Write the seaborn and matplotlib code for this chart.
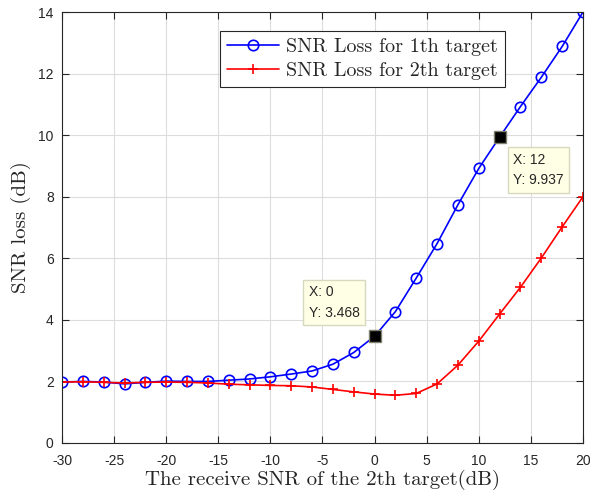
import numpy as np
import pandas as pd
import seaborn as sns
import matplotlib
matplotlib.use("Agg")
import matplotlib.pyplot as plt

snr = [-30, -28, -26, -24, -22, -20, -18, -16, -14, -12, -10, -8, -6, -4, -2,
       0, 2, 4, 6, 8, 10, 12, 14, 16, 18, 20]
loss1 = [1.98, 2.0, 1.98, 1.92, 1.97, 2.01, 2.0, 2.0, 2.04, 2.08, 2.15, 2.24, 2.34,
         2.56, 2.94, 3.468, 4.27, 5.36, 6.48, 7.74, 8.92, 9.937, 10.93, 11.88, 12.88, 14.0]
loss2 = [1.98, 1.99, 1.97, 1.95, 1.97, 1.98, 1.97, 1.95, 1.91, 1.89, 1.87, 1.86, 1.82,
         1.74, 1.66, 1.59, 1.55, 1.61, 1.92, 2.53, 3.31, 4.19, 5.06, 6.01, 7.02, 8.0]
label1 = "SNR Loss for 1th target"
label2 = "SNR Loss for 2th target"
tips = [(0, 3.468), (12, 9.937)]

sns.set_style("whitegrid")
plt.rcParams['font.family'] = ['Liberation Sans', 'DejaVu Sans']
plt.rcParams['axes.unicode_minus'] = False

fig = plt.figure(figsize=(5.9, 4.9), dpi=100)
ax = fig.add_axes([62/590, 1-443/490, (583-62)/590, (443-12)/490])

df = pd.DataFrame({"snr": snr, "l1": loss1, "l2": loss2})
sns.lineplot(data=df, x="snr", y="l1", ax=ax, color="#0000ff", marker="o",
             markersize=7.5, markerfacecolor="none", markeredgecolor="#0000ff",
             markeredgewidth=1.2, linewidth=1.2, label=label1)
sns.lineplot(data=df, x="snr", y="l2", ax=ax, color="#ff0000", marker="+",
             markersize=7, markeredgecolor="#ff0000", markeredgewidth=1.2,
             linewidth=1.2, label=label2)

ax.set_xlim(-30, 20)
ax.set_ylim(0, 14)
ax.set_xticks(np.arange(-30, 21, 5))
ax.set_yticks(np.arange(0, 15, 2))
ax.grid(True, color="#dcdcdc", linewidth=0.8)
for s in ax.spines.values():
    s.set_color("#262626")
    s.set_linewidth(0.8)
    s.set_visible(True)
ax.tick_params(direction="in", length=5, width=0.8, color="#262626",
               labelsize=10, labelcolor="#262626", top=True, right=True,
               bottom=True, left=True, pad=6)
ax.tick_params(axis='x', pad=8)

ax.set_xlabel("The receive SNR of the 2th target(dB)", fontfamily="cmr10",
              fontsize=15, labelpad=1)
ax.set_ylabel("SNR loss (dB)", fontfamily="cmr10", fontsize=15, labelpad=5)

leg = ax.legend(loc="upper left", bbox_to_anchor=((220-62)/521, (443-31)/431),
                prop={"family": "cmr10", "size": 14.5}, frameon=True,
                fancybox=False, edgecolor="#262626", framealpha=1,
                borderpad=0.35, labelspacing=0.3, handlelength=2.6,
                handletextpad=0.35, borderaxespad=0)
leg.get_frame().set_linewidth(0.8)

for (tx, ty) in tips:
    ax.plot([tx], [ty], marker="s", markersize=8, color="black",
            markeredgecolor="#808070", zorder=5)

ax.text(-6.3, 4.0, "X: 0\nY: 3.468", fontsize=10, color="#262626",
        va="bottom", ha="left", linespacing=1.6,
        bbox=dict(boxstyle="square,pad=0.4", facecolor="#ffffe6",
                  edgecolor="#d8d8c0", linewidth=1))
ax.text(13.3, 8.3, "X: 12\nY: 9.937", fontsize=10, color="#262626",
        va="bottom", ha="left", linespacing=1.6,
        bbox=dict(boxstyle="square,pad=0.4", facecolor="#ffffe6",
                  edgecolor="#d8d8c0", linewidth=1))

fig.savefig("out.png", dpi=100)
